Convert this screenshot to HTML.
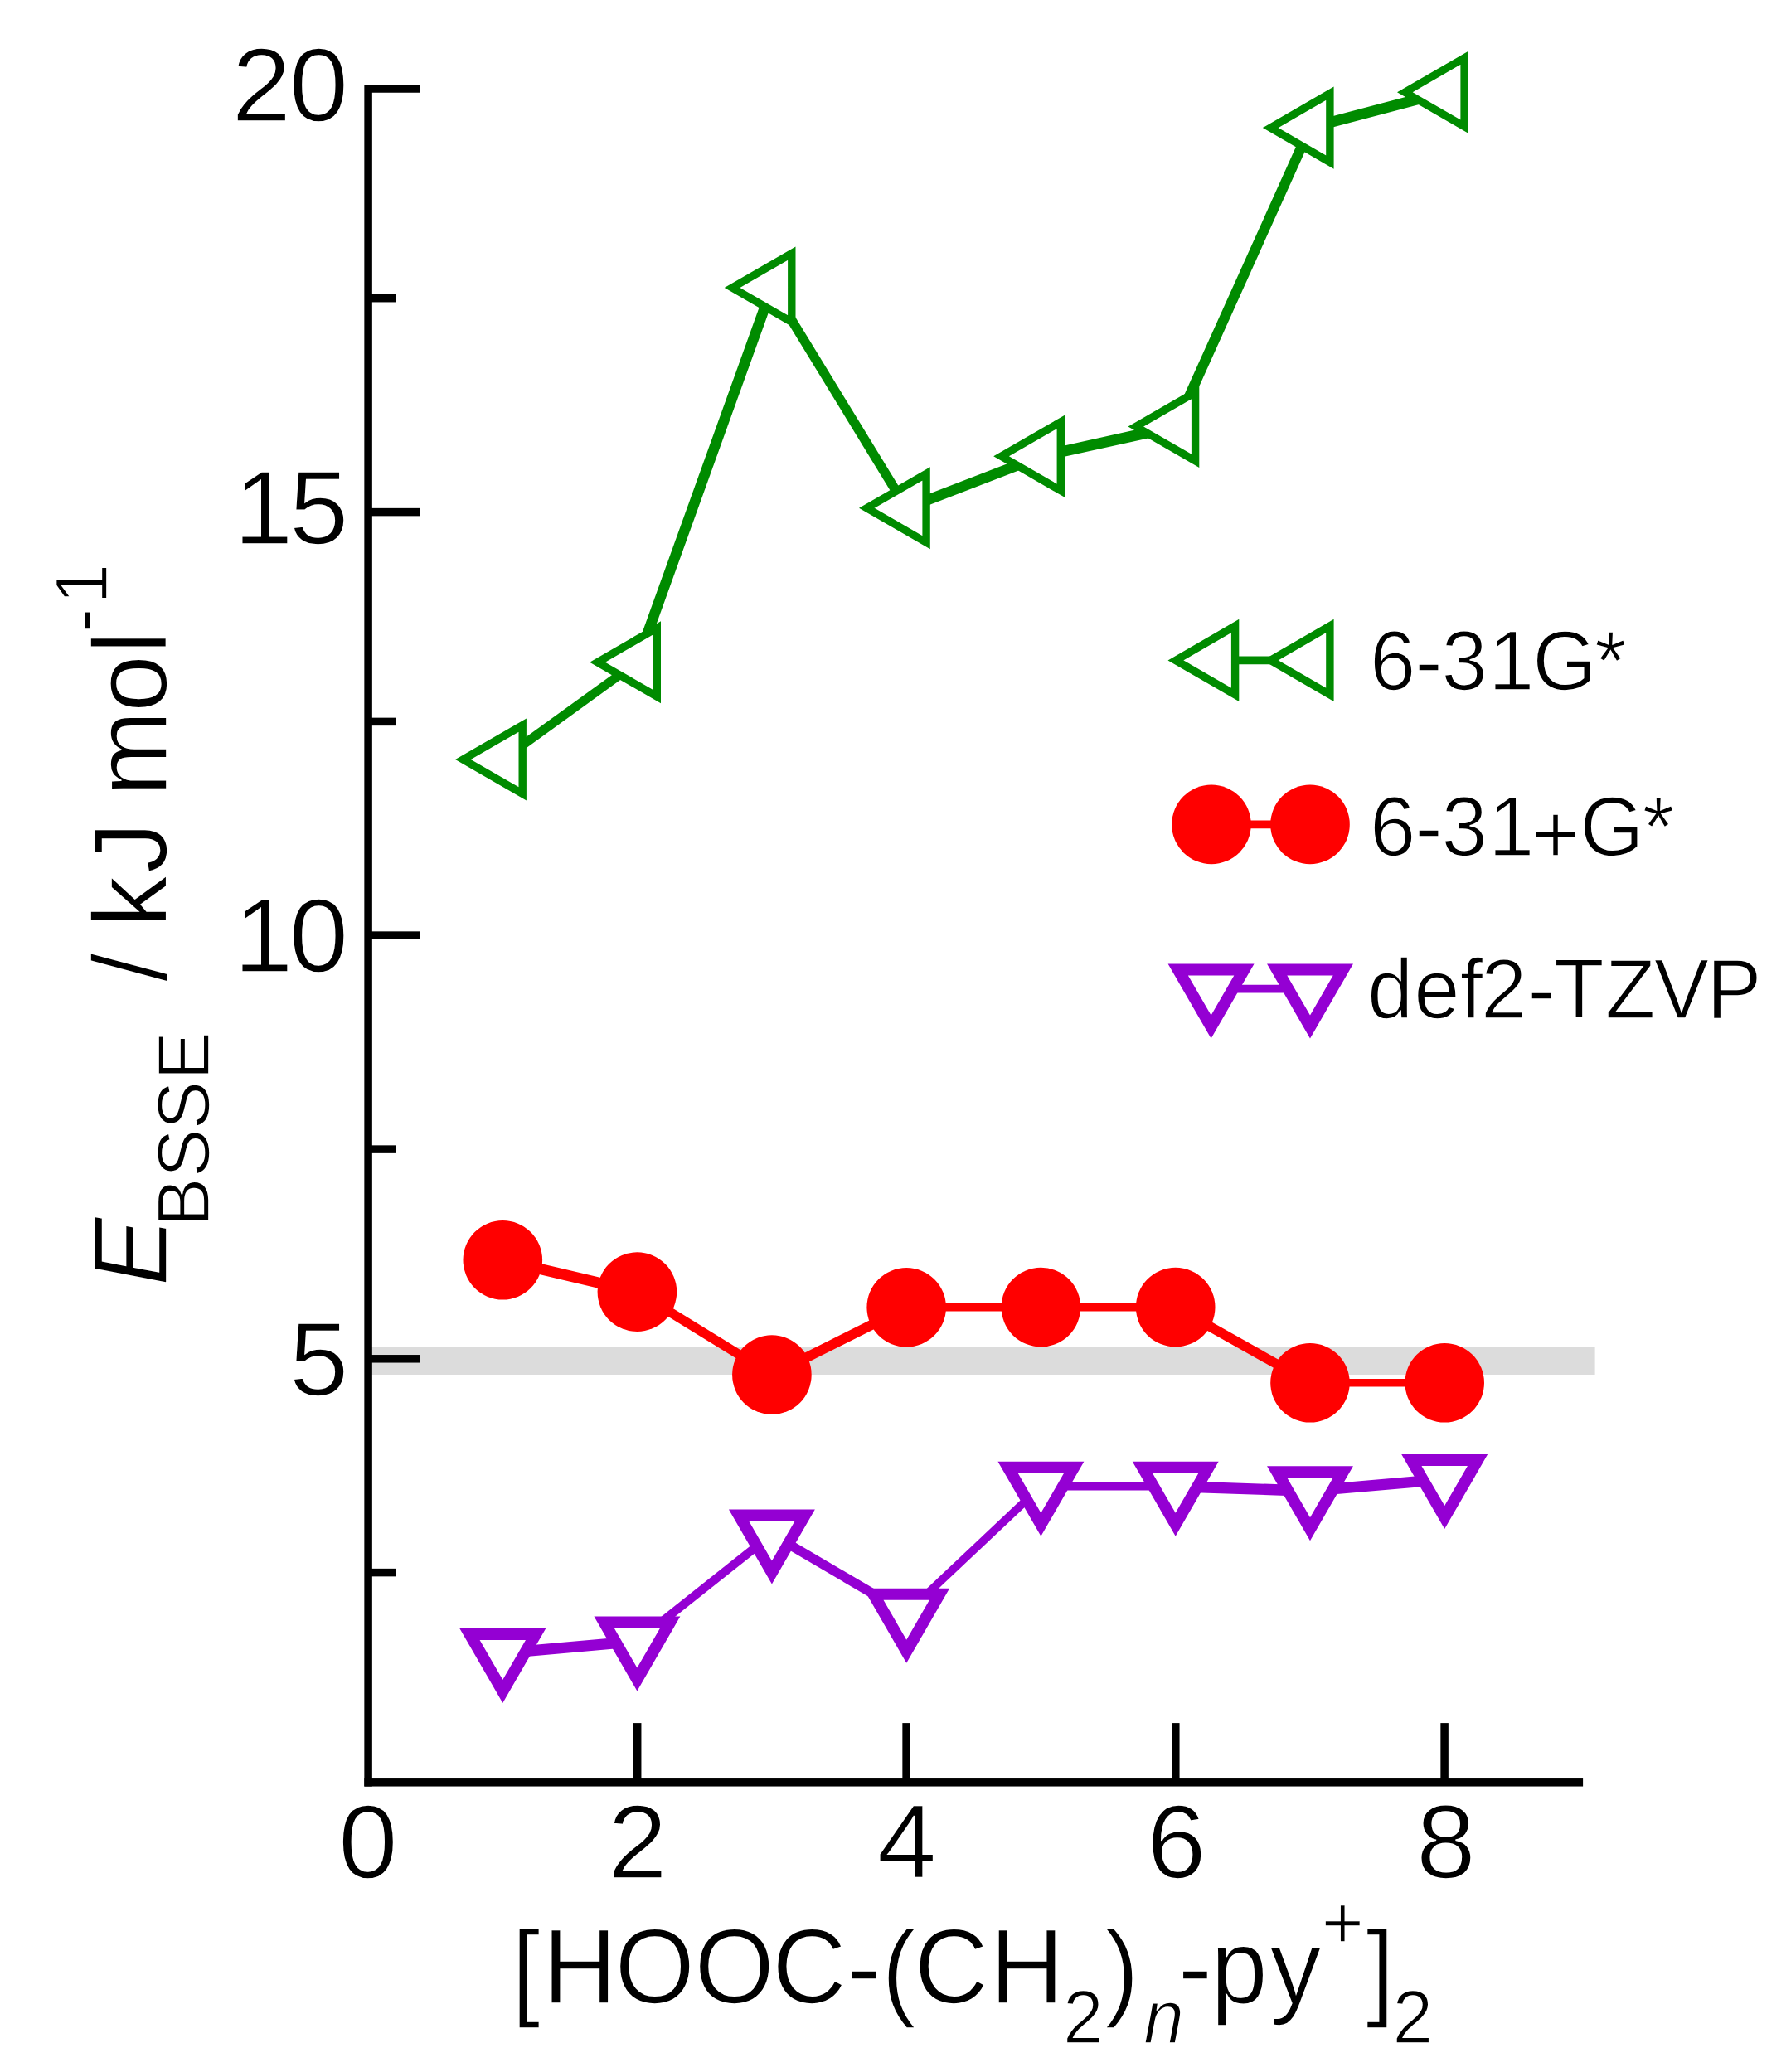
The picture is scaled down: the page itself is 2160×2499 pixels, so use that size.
<!DOCTYPE html>
<html lang="en"><head><meta charset="utf-8"><title>BSSE energies</title>
<style>html,body{margin:0;padding:0;background:#fff}body{width:2160px;height:2499px;overflow:hidden}svg{display:block}text{font-family:'Liberation Sans', Arial, Helvetica, sans-serif;fill:#000;font-kerning:none;stroke:#fff;stroke-width:1.6px}</style></head><body>
<svg width="2160" height="2499" viewBox="0 0 2160 2499">
<rect x="0" y="0" width="2160" height="2499" fill="#fff"/>
<rect x="444" y="1625" width="1479.6" height="33" fill="#dcdcdc"/>
<g id="green"><line x1="606.3" y1="916" x2="768.4" y2="798.7" stroke="#008b00" stroke-width="10.86"/><line x1="768.4" y1="798.7" x2="930.9" y2="347" stroke="#008b00" stroke-width="12.61"/><line x1="930.9" y1="347" x2="1093.2" y2="612.8" stroke="#008b00" stroke-width="11.44"/><line x1="1093.2" y1="612.8" x2="1255.4" y2="550.3" stroke="#008b00" stroke-width="12.5"/><line x1="1255.4" y1="550.3" x2="1417.7" y2="514.5" stroke="#008b00" stroke-width="13.09"/><line x1="1417.7" y1="514.5" x2="1580" y2="154.1" stroke="#008b00" stroke-width="12.22"/><line x1="1580" y1="154.1" x2="1742.2" y2="111.2" stroke="#008b00" stroke-width="12.95"/><polygon points="630.2,874.6 630.2,957.4 558.5,916" fill="#fff" stroke="#008b00" stroke-width="9.4" stroke-linejoin="miter"/><polygon points="792.3,757.3 792.3,840.1 720.6,798.7" fill="#fff" stroke="#008b00" stroke-width="9.4" stroke-linejoin="miter"/><polygon points="954.8,305.6 954.8,388.4 883.1,347" fill="#fff" stroke="#008b00" stroke-width="9.4" stroke-linejoin="miter"/><polygon points="1117.1,571.4 1117.1,654.2 1045.4,612.8" fill="#fff" stroke="#008b00" stroke-width="9.4" stroke-linejoin="miter"/><polygon points="1279.3,508.9 1279.3,591.7 1207.6,550.3" fill="#fff" stroke="#008b00" stroke-width="9.4" stroke-linejoin="miter"/><polygon points="1441.6,473.1 1441.6,555.9 1369.9,514.5" fill="#fff" stroke="#008b00" stroke-width="9.4" stroke-linejoin="miter"/><polygon points="1603.9,112.7 1603.9,195.5 1532.2,154.1" fill="#fff" stroke="#008b00" stroke-width="9.4" stroke-linejoin="miter"/><polygon points="1766.1,69.8 1766.1,152.6 1694.4,111.2" fill="#fff" stroke="#008b00" stroke-width="9.4" stroke-linejoin="miter"/></g>
<g id="red"><line x1="606.3" y1="1519.8" x2="768.4" y2="1558.1" stroke="#ff0000" stroke-width="13.04"/><line x1="768.4" y1="1558.1" x2="930.9" y2="1658.1" stroke="#ff0000" stroke-width="11.41"/><line x1="930.9" y1="1658.1" x2="1093.2" y2="1576.8" stroke="#ff0000" stroke-width="11.98"/><line x1="1093.2" y1="1576.8" x2="1255.4" y2="1576.6" stroke="#ff0000" stroke-width="9.6"/><line x1="1255.4" y1="1576.6" x2="1417.7" y2="1576.6" stroke="#ff0000" stroke-width="9.6"/><line x1="1417.7" y1="1576.6" x2="1580" y2="1667.8" stroke="#ff0000" stroke-width="11.68"/><line x1="1580" y1="1667.8" x2="1742.2" y2="1667.8" stroke="#ff0000" stroke-width="9.6"/><circle cx="606.3" cy="1519.8" r="47.8" fill="#ff0000"/><circle cx="768.4" cy="1558.1" r="47.8" fill="#ff0000"/><circle cx="930.9" cy="1658.1" r="47.8" fill="#ff0000"/><circle cx="1093.2" cy="1576.8" r="47.8" fill="#ff0000"/><circle cx="1255.4" cy="1576.6" r="47.8" fill="#ff0000"/><circle cx="1417.7" cy="1576.6" r="47.8" fill="#ff0000"/><circle cx="1580" cy="1667.8" r="47.8" fill="#ff0000"/><circle cx="1742.2" cy="1667.8" r="47.8" fill="#ff0000"/></g>
<g id="violet"><line x1="606.3" y1="1993.9" x2="768.4" y2="1979.5" stroke="#9400d3" stroke-width="13.35"/><line x1="768.4" y1="1979.5" x2="930.9" y2="1850.5" stroke="#9400d3" stroke-width="10.5"/><line x1="930.9" y1="1850.5" x2="1093.2" y2="1945.8" stroke="#9400d3" stroke-width="11.56"/><line x1="1093.2" y1="1945.8" x2="1255.4" y2="1792.7" stroke="#9400d3" stroke-width="9.74"/><line x1="1255.4" y1="1792.7" x2="1417.7" y2="1792.7" stroke="#9400d3" stroke-width="9.6"/><line x1="1417.7" y1="1792.7" x2="1580" y2="1798.2" stroke="#9400d3" stroke-width="13.39"/><line x1="1580" y1="1798.2" x2="1742.2" y2="1784.1" stroke="#9400d3" stroke-width="13.35"/><polygon points="566.46,1970.9 646.14,1970.9 606.3,2039.9" fill="#fff" stroke="#9400d3" stroke-width="14" stroke-linejoin="miter"/><polygon points="728.56,1956.5 808.24,1956.5 768.4,2025.5" fill="#fff" stroke="#9400d3" stroke-width="14" stroke-linejoin="miter"/><polygon points="891.06,1827.5 970.74,1827.5 930.9,1896.5" fill="#fff" stroke="#9400d3" stroke-width="14" stroke-linejoin="miter"/><polygon points="1053.36,1922.8 1133.04,1922.8 1093.2,1991.8" fill="#fff" stroke="#9400d3" stroke-width="14" stroke-linejoin="miter"/><polygon points="1215.56,1769.7 1295.24,1769.7 1255.4,1838.7" fill="#fff" stroke="#9400d3" stroke-width="14" stroke-linejoin="miter"/><polygon points="1377.86,1769.7 1457.54,1769.7 1417.7,1838.7" fill="#fff" stroke="#9400d3" stroke-width="14" stroke-linejoin="miter"/><polygon points="1540.16,1775.2 1619.84,1775.2 1580,1844.2" fill="#fff" stroke="#9400d3" stroke-width="14" stroke-linejoin="miter"/><polygon points="1702.36,1761.1 1782.04,1761.1 1742.2,1830.1" fill="#fff" stroke="#9400d3" stroke-width="14" stroke-linejoin="miter"/></g>
<g id="axes">
<rect x="439.35" y="102.2" width="9.5" height="2052.35" fill="#000"/>
<rect x="439.35" y="2145.05" width="1469.75" height="9.5" fill="#000"/>
<rect x="444.1" y="102.25" width="62.3" height="9.5" fill="#000"/>
<rect x="444.1" y="612.85" width="62.3" height="9.5" fill="#000"/>
<rect x="444.1" y="1123.35" width="62.3" height="9.5" fill="#000"/>
<rect x="444.1" y="1634.05" width="62.3" height="9.5" fill="#000"/>
<rect x="444.1" y="354.95" width="33.5" height="9.5" fill="#000"/>
<rect x="444.1" y="865.65" width="33.5" height="9.5" fill="#000"/>
<rect x="444.1" y="1381.35" width="33.5" height="9.5" fill="#000"/>
<rect x="444.1" y="1891.85" width="33.5" height="9.5" fill="#000"/>
<rect x="763.95" y="2078.1" width="9.5" height="71.7" fill="#000"/>
<rect x="1088.35" y="2078.1" width="9.5" height="71.7" fill="#000"/>
<rect x="1413.05" y="2078.1" width="9.5" height="71.7" fill="#000"/>
<rect x="1737.35" y="2078.1" width="9.5" height="71.7" fill="#000"/>
</g>
<g id="ticklabels">
<text x="268.74 335.18" y="145.8" font-size="124" transform="matrix(1.0400 0 0 1.0200 0 -2.916)">20</text>
<text x="270.83 335.3" y="656.2" font-size="124" transform="matrix(1.0400 0 0 1.0200 0 -13.124)">15</text>
<text x="270.83 335.18" y="1171.8" font-size="124" transform="matrix(1.0400 0 0 1.0200 0 -23.436)">10</text>
<text x="335.3" y="1682.6" font-size="124" transform="matrix(1.0400 0 0 1.0200 0 -33.652)">5</text>
<text x="392.25" y="2265.4" font-size="124" transform="matrix(1.0400 0 0 1.0100 0 -22.654)">0</text>
<text x="704.7" y="2265.4" font-size="124" transform="matrix(1.0400 0 0 1.0100 0 -22.654)">2</text>
<text x="1016.97" y="2265.4" font-size="124" transform="matrix(1.0400 0 0 1.0100 0 -22.654)">4</text>
<text x="1329.81" y="2265.4" font-size="124" transform="matrix(1.0400 0 0 1.0100 0 -22.654)">6</text>
<text x="1642.35" y="2265.4" font-size="124" transform="matrix(1.0400 0 0 1.0100 0 -22.654)">8</text>
</g>
<g id="xtitle">
<text transform="matrix(1.0000 0 0 1.0350 0 -84.570)"><tspan x="616.89 654.55 741.4 837.55 931.34 1021.6 1063.32 1102.49 1193.85" y="2419.2 2416.3 2416.3 2416.3 2416.3 2416.3 2419.2 2416.3 2416.3" font-size="124">[HOOC-(CH</tspan><tspan x="1281.97" y="2462.87" font-size="87.5">2</tspan><tspan x="1332.53" y="2419.2" font-size="124">)</tspan><tspan x="1379.38" y="2462.87" font-size="87.5" font-style="italic">n</tspan><tspan x="1420.85 1459.93 1531.62" y="2416.3" font-size="124">-py</tspan><tspan x="1593.87" y="2352.53" font-size="87.5">+</tspan><tspan x="1647.51" y="2419.2" font-size="124">]</tspan><tspan x="1679.62" y="2462.87" font-size="87.5">2</tspan></text>
</g>
<g id="ytitle" transform="translate(200.6,1557) rotate(-90)">
<text transform="matrix(1.0000 0 0 1.0200 0 -0.000)" xml:space="preserve"><tspan x="5.96" y="0" font-size="124" font-style="italic">E</tspan><tspan x="77.89 137.09 194.74 254.61" y="50.49" font-size="87.5">BSSE</tspan><tspan x="312.97 347.42 372.92 407.38 438.78 503.78 565.78 596.87 697.92 768.25" y="0" font-size="124">  / kJ mol</tspan><tspan x="793.98 828.53" y="-70.39" font-size="87.5">-1</tspan></text>
</g>
<g id="legend">
<line x1="1464.5" y1="796.4" x2="1580" y2="796.4" stroke="#008b00" stroke-width="9.6"/><polygon points="1489.6,755 1489.6,837.8 1417.9,796.4" fill="#fff" stroke="#008b00" stroke-width="9.4" stroke-linejoin="miter"/><polygon points="1603.9,755 1603.9,837.8 1532.2,796.4" fill="#fff" stroke="#008b00" stroke-width="9.4" stroke-linejoin="miter"/>
<line x1="1464.5" y1="994.4" x2="1580" y2="994.4" stroke="#ff0000" stroke-width="9.6"/><circle cx="1461" cy="994.4" r="47.8" fill="#ff0000"/><circle cx="1580" cy="994.4" r="47.8" fill="#ff0000"/>
<line x1="1464.5" y1="1192.6" x2="1580" y2="1192.6" stroke="#9400d3" stroke-width="9.6"/><polygon points="1420.76,1169.6 1500.44,1169.6 1460.6,1238.6" fill="#fff" stroke="#9400d3" stroke-width="14" stroke-linejoin="miter"/><polygon points="1540.16,1169.6 1619.84,1169.6 1580,1238.6" fill="#fff" stroke="#9400d3" stroke-width="14" stroke-linejoin="miter"/>
<text x="1651.94 1706.63 1738.62 1794.92 1848.17 1922.91" y="832.4" font-size="99.5" transform="matrix(1.0000 0 0 1.0300 0 -24.972)">6-31G*</text>
<text transform="matrix(1.0000 0 0 1.0300 0 -30.966)"><tspan x="1651.94 1706.63 1738.62 1794.92" y="1032.2" font-size="99.5">6-31</tspan><tspan x="1846.92" y="1040.45" font-size="99.5">+</tspan><tspan x="1905.37 1980.66" y="1032.2" font-size="99.5">G*</tspan></text>
<text x="1649 1705.33 1760.85 1786.08 1842.48 1873.89 1935.79 1994.87 2058.31" y="1228.2" font-size="99.5" transform="matrix(1.0000 0 0 1.0300 0 -36.846)">def2-TZVP</text>
</g>
</svg></body></html>
